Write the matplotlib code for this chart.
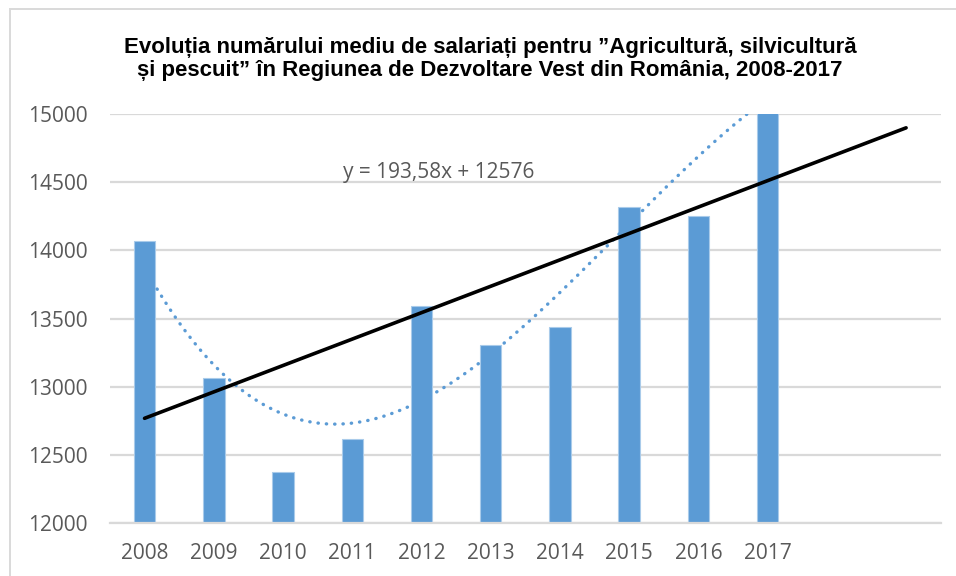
import matplotlib.pyplot as plt
import matplotlib.patches as mpatches
import numpy as np

# data
years = ['2008', '2009', '2010', '2011', '2012', '2013', '2014', '2015', '2016', '2017']
employees = [14066, 13062, 12373, 12617, 13593, 13308, 13441, 14317, 14255, 15375]
# linear trendline as printed on the chart (x = 1..n), forecast 2 periods forward
trend_slope = 193.58
trend_intercept = 12576
forecast_periods = 2
poly_order = 3

title = ('Evoluția numărului mediu de salariați pentru ”Agricultură, silvicultură\n'
         'și pescuit” în Regiunea de Dezvoltare Vest din România, 2008-2017')
equation = 'y = 193,58x + 12576'

bar_color = '#5B9BD5'
text_gray = '#595959'
grid_gray = '#D9D9D9'

fig = plt.figure(figsize=(9.56, 5.76), dpi=100)
ax = fig.add_axes([0.115, 0.0915, 0.869, 0.7105])

n = len(years)
n_total = n + forecast_periods
x = np.arange(n)

ax.bar(x, employees, width=0.31, color=bar_color, edgecolor='#A9CBEA', linewidth=0.8, zorder=2)

# polynomial trendline, dotted
xi = np.arange(1, n + 1)
coef = np.polyfit(xi, employees, poly_order)
xs = np.linspace(1, n, 300)
ax.plot(xs - 1, np.polyval(coef, xs), color=bar_color, linewidth=2.4,
        linestyle=(0, (0.1, 2.4)), dash_capstyle='round', zorder=3)

# linear trendline
xl = np.array([1, n_total])
ax.plot(xl - 1, trend_slope * xl + trend_intercept, color='black', linewidth=2.6,
        solid_capstyle='round', zorder=4)

ax.text(0.28, 0.856, equation, transform=ax.transAxes, fontsize=15,
        family='Open Sans', color=text_gray, va='center', ha='left')

ax.set_xlim(-0.5, n_total - 0.5)
ax.set_ylim(12000, 15000)
ax.set_yticks(np.arange(12000, 15001, 500))
ax.set_xticks(np.arange(n_total))
ax.set_xticklabels(years + [''] * forecast_periods)

ax.yaxis.grid(True, color=grid_gray, linewidth=1.6, zorder=0)
ax.set_axisbelow(True)
for s in ['top', 'right', 'left']:
    ax.spines[s].set_visible(False)
ax.spines['bottom'].set_color(grid_gray)
ax.spines['bottom'].set_linewidth(1.6)
ax.tick_params(axis='both', length=0, labelsize=15, labelcolor=text_gray)
ax.tick_params(axis='y', pad=16)
ax.tick_params(axis='x', pad=14)
for lbl in ax.get_xticklabels() + ax.get_yticklabels():
    lbl.set_family('Open Sans')

fig.text(0.5125, 0.898, title, ha='center', va='center', fontsize=16,
         fontweight='bold', family='Liberation Sans', linespacing=1.15)

# chart area border (only left and top visible in the crop)
fig.patches.append(mpatches.Rectangle((10 / 956, -0.1), 1.2, 1 - 9 / 576 + 0.1,
                                      transform=fig.transFigure, fill=False,
                                      edgecolor=grid_gray, linewidth=1.4))

fig.savefig('out.png', dpi=100)
